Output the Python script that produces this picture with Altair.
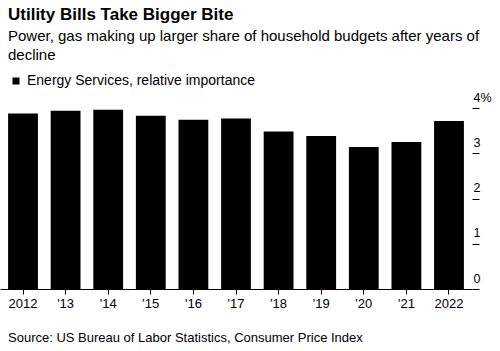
import altair as alt
import pandas as pd

years = ["2012", "'13", "'14", "'15", "'16", "'17", "'18", "'19", "'20", "'21", "2022"]
values = [3.88, 3.94, 3.96, 3.83, 3.74, 3.77, 3.48, 3.38, 3.14, 3.25, 3.71]
series_name = "Energy Services, relative importance"
y_ticks = [0, 1, 2, 3, 4]

title_text = "Utility Bills Take Bigger Bite"
subtitle_lines = ["Power, gas making up larger share of household budgets after years of", "decline"]
source_text = "Source: US Bureau of Labor Statistics, Consumer Price Index"

FONT = "Liberation Sans"

df = pd.DataFrame({"year": years, "value": values, "series": [series_name] * len(years)})

bars = alt.Chart(df).mark_bar(color="black").encode(
    x=alt.X(
        "year:N",
        sort=years,
        title=None,
        scale=alt.Scale(paddingInner=0.3, paddingOuter=0.19),
        axis=alt.Axis(
            labelAngle=0, labelFontSize=13, labelColor="black", labelFont=FONT,
            domainColor="black", domainWidth=1, tickColor="black", tickSize=5,
            labelPadding=3, grid=False,
        ),
    ),
    y=alt.Y(
        "value:Q",
        title=None,
        scale=alt.Scale(domain=[0, 4], nice=False, zero=True),
        axis=alt.Axis(
            orient="right", values=y_ticks, domain=False, grid=False,
            tickColor="black", tickSize=7, tickWidth=1,
            labelAlign="left", labelBaseline="alphabetic", labelPadding=-6,
            labelOffset=-7, labelFontSize=12.5, labelColor="black", labelFont=FONT,
            labelExpr="datum.value == 4 ? '4%' : datum.label",
        ),
    ),
    color=alt.Color(
        "series:N",
        scale=alt.Scale(range=["black"]),
        legend=alt.Legend(
            title=None, orient="none", legendX=9, legendY=-34, padding=0,
            symbolType="square", symbolSize=49, symbolStrokeWidth=0,
            labelFontSize=14, labelFont=FONT, labelColor="black", labelOffset=4,
            labelLimit=0,
        ),
    ),
)

source = alt.Chart(pd.DataFrame({"t": [source_text]})).mark_text(
    align="left", baseline="alphabetic", fontSize=13, font=FONT, color="black"
).encode(x=alt.value(8), y=alt.value(234), text="t:N")

chart = alt.layer(bars, source).properties(
    width=472,
    height=181,
    autosize=alt.AutoSizeParams(type="none"),
    padding={"left": 0, "top": 108, "right": 28, "bottom": 62},
    title=alt.TitleParams(
        text=title_text,
        subtitle=subtitle_lines,
        anchor="start",
        dx=8,
        font=FONT,
        fontSize=17,
        fontWeight="bold",
        color="black",
        subtitleFont=FONT,
        subtitleFontSize=15,
        subtitleColor="black",
        subtitleLineHeight=19.5,
        subtitlePadding=5,
        offset=10,
    ),
).configure_view(stroke=None)

chart.save("out.html", embed_options={"renderer": "svg", "actions": False})
